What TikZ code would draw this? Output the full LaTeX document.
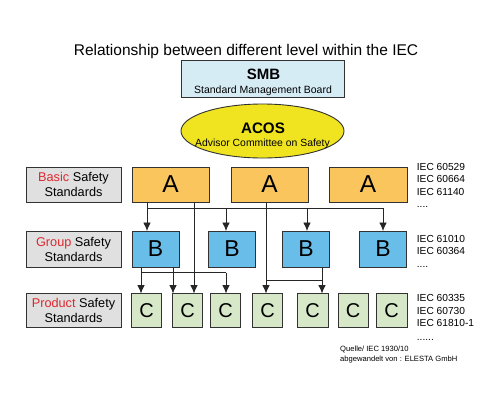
\documentclass[tikz,border=0pt]{standalone}
\usepackage{fontspec}
\setmainfont{Liberation Sans}
\usetikzlibrary{arrows.meta,shapes.geometric}
\definecolor{smbfill}{RGB}{214,236,245}
\definecolor{acosfill}{RGB}{240,228,32}
\definecolor{afill}{RGB}{250,197,92}
\definecolor{bfill}{RGB}{104,189,233}
\definecolor{cfill}{RGB}{214,232,200}
\definecolor{labfill}{RGB}{224,224,224}
\definecolor{labred}{RGB}{222,40,45}
\definecolor{boxline}{RGB}{50,50,50}
\newcommand{\fsz}[1]{\fontsize{#1}{#1}\selectfont}
\begin{document}
\begin{tikzpicture}[x=1pt,y=-1pt,
  box/.style={draw=boxline, line width=0.9pt, inner sep=0pt, outer sep=0pt},
  abox/.style={box, fill=afill, minimum width=77pt, minimum height=35pt, font=\fsz{24.5}},
  bbox/.style={box, fill=bfill, minimum width=47pt, minimum height=36pt, font=\fsz{23}},
  cbox/.style={box, fill=cfill, minimum width=29.5pt, minimum height=34pt, font=\fsz{20}},
  labbox/.style={box, fill=labfill, minimum width=95pt, align=center, font=\fontsize{12.7}{15}\selectfont},
  reftext/.style={anchor=base west, inner sep=0pt, font=\fsz{10.2}},
  srctext/.style={anchor=base west, inner sep=0pt, font=\fsz{7.6}},
  conn/.style={line width=0.85pt, draw=black!85},
  arr/.style={conn, -{Latex[length=8.5pt,width=7.5pt]}},
]
\path[use as bounding box, fill=white] (0,0) rectangle (495,400);

% title
\node[anchor=base, inner sep=0pt, font=\fsz{15.5}] (title) at (246,55.5) {Relationship between different level within the IEC};

% SMB
\node[box, fill=smbfill, minimum width=163pt, minimum height=37pt] (smb) at (262.5,78.5) {};
\node[anchor=base, inner sep=0pt, font=\bfseries\fsz{15}] (smbt) at (263.5,79) {SMB};
\node[anchor=base, inner sep=0pt, font=\fsz{10.5}] (smbs) at (263,93.3) {Standard Management Board};

% ACOS
\node[box, ellipse, fill=acosfill, minimum width=163pt, minimum height=54pt] (acos) at (262.5,131) {};
\node[anchor=base, inner sep=0pt, font=\bfseries\fsz{15.2}] (acost) at (263,133.3) {ACOS};
\node[anchor=base, inner sep=0pt, font=\fsz{10.4}] (acoss) at (262.5,146.7) {Advisor Committee on Safety};

% level labels
\node[labbox, minimum height=35pt] (labA) at (73.5,184.5) {{\color{labred}Basic} Safety\\Standards};
\node[labbox, minimum height=36pt] (labB) at (73.5,249) {{\color{labred}Group} Safety\\Standards};
\node[labbox, minimum height=34pt] (labC) at (73.5,310.5) {{\color{labred}Product} Safety\\Standards};

% A row
\node[abox] (A1) at (170.5,184.5) {A};
\node[abox] (A2) at (269.5,184.5) {A};
\node[abox, minimum width=78pt] (A3) at (368,184.5) {A};

% B row
\node[bbox] (B1) at (155.5,249) {B};
\node[bbox] (B2) at (232,249) {B};
\node[bbox] (B3) at (306,249) {B};
\node[bbox] (B4) at (383,249) {B};

% C row
\node[cbox] (C1) at (146.5,310.5) {C};
\node[cbox] (C2) at (187.5,310.5) {C};
\node[cbox] (C3) at (225.5,310.5) {C};
\node[cbox] (C4) at (267.5,310.5) {C};
\node[cbox, minimum width=31pt] (C5) at (312.5,310.5) {C};
\node[cbox, minimum width=30pt] (C6) at (353,310.5) {C};
\node[cbox, minimum width=31pt] (C7) at (391.5,310.5) {C};

% reference standards
\node[reftext] (ra1) at (416.7,170) {IEC 60529};
\node[reftext] (ra2) at (416.7,182.3) {IEC 60664};
\node[reftext] (ra3) at (416.7,195) {IEC 61140};
\node[reftext] (ra4) at (416.7,207.5) {....};
\node[reftext] (rb1) at (416.7,242.3) {IEC 61010};
\node[reftext] (rb2) at (416.7,254.3) {IEC 60364};
\node[reftext] (rb3) at (416.7,267.5) {....};
\node[reftext] (rc1) at (416.7,301.7) {IEC 60335};
\node[reftext] (rc2) at (416.7,314) {IEC 60730};
\node[reftext] (rc3) at (416.7,326.7) {IEC 61810-1};
\node[reftext] (rc4) at (416.7,340.8) {......};

% source
\node[srctext] (src1) at (340,351.8) {Quelle/ IEC 1930/10};
\node[srctext] (src2) at (340,361) {abgewandelt von : ELESTA GmbH};

% connector x positions and bus heights
\coordinate (xa) at (147,0);
\coordinate (xb2) at (226,0);
\coordinate (xb3) at (307,0);
\coordinate (xb4) at (383,0);
\coordinate (xa1c) at (194,0);
\coordinate (xc1) at (141,0);
\coordinate (xc2) at (173,0);
\coordinate (xc3) at (226,0);
\coordinate (xc4) at (266,0);
\coordinate (xc5) at (322,0);
\coordinate (hA) at (0,208);
\coordinate (hB) at (0,272.5);
\coordinate (hC) at (0,280);

% A1 -> B row
\draw[arr] (A1.south -| xa) -- (B1.north -| xa);
\draw[conn] (hA -| xa) -- (hA -| xb4);
\draw[arr] (hA -| xb2) -- (B2.north -| xb2);
\draw[arr] (hA -| xb3) -- (B3.north -| xb3);
\draw[arr] (hA -| xb4) -- (B4.north -| xb4);
% A1 -> C2
\draw[arr] (A1.south -| xa1c) -- (C2.north -| xa1c);
% B1 -> C row
\draw[arr] (B1.south -| xc1) -- (C1.north -| xc1);
\draw[arr] (B1.south -| xc2) -- (C2.north -| xc2);
\draw[conn] (hB -| xc1) -- (hB -| xc3);
\draw[arr] (hB -| xc3) -- (C3.north -| xc3);
% A2 -> C4, B3 -> C5
\draw[arr] (A2.south -| xc4) -- (C4.north -| xc4);
\draw[conn] (hC -| xc4) -- (hC -| xc5);
\draw[arr] (B3.south -| xc5) -- (C5.north -| xc5);
\end{tikzpicture}
\end{document}
